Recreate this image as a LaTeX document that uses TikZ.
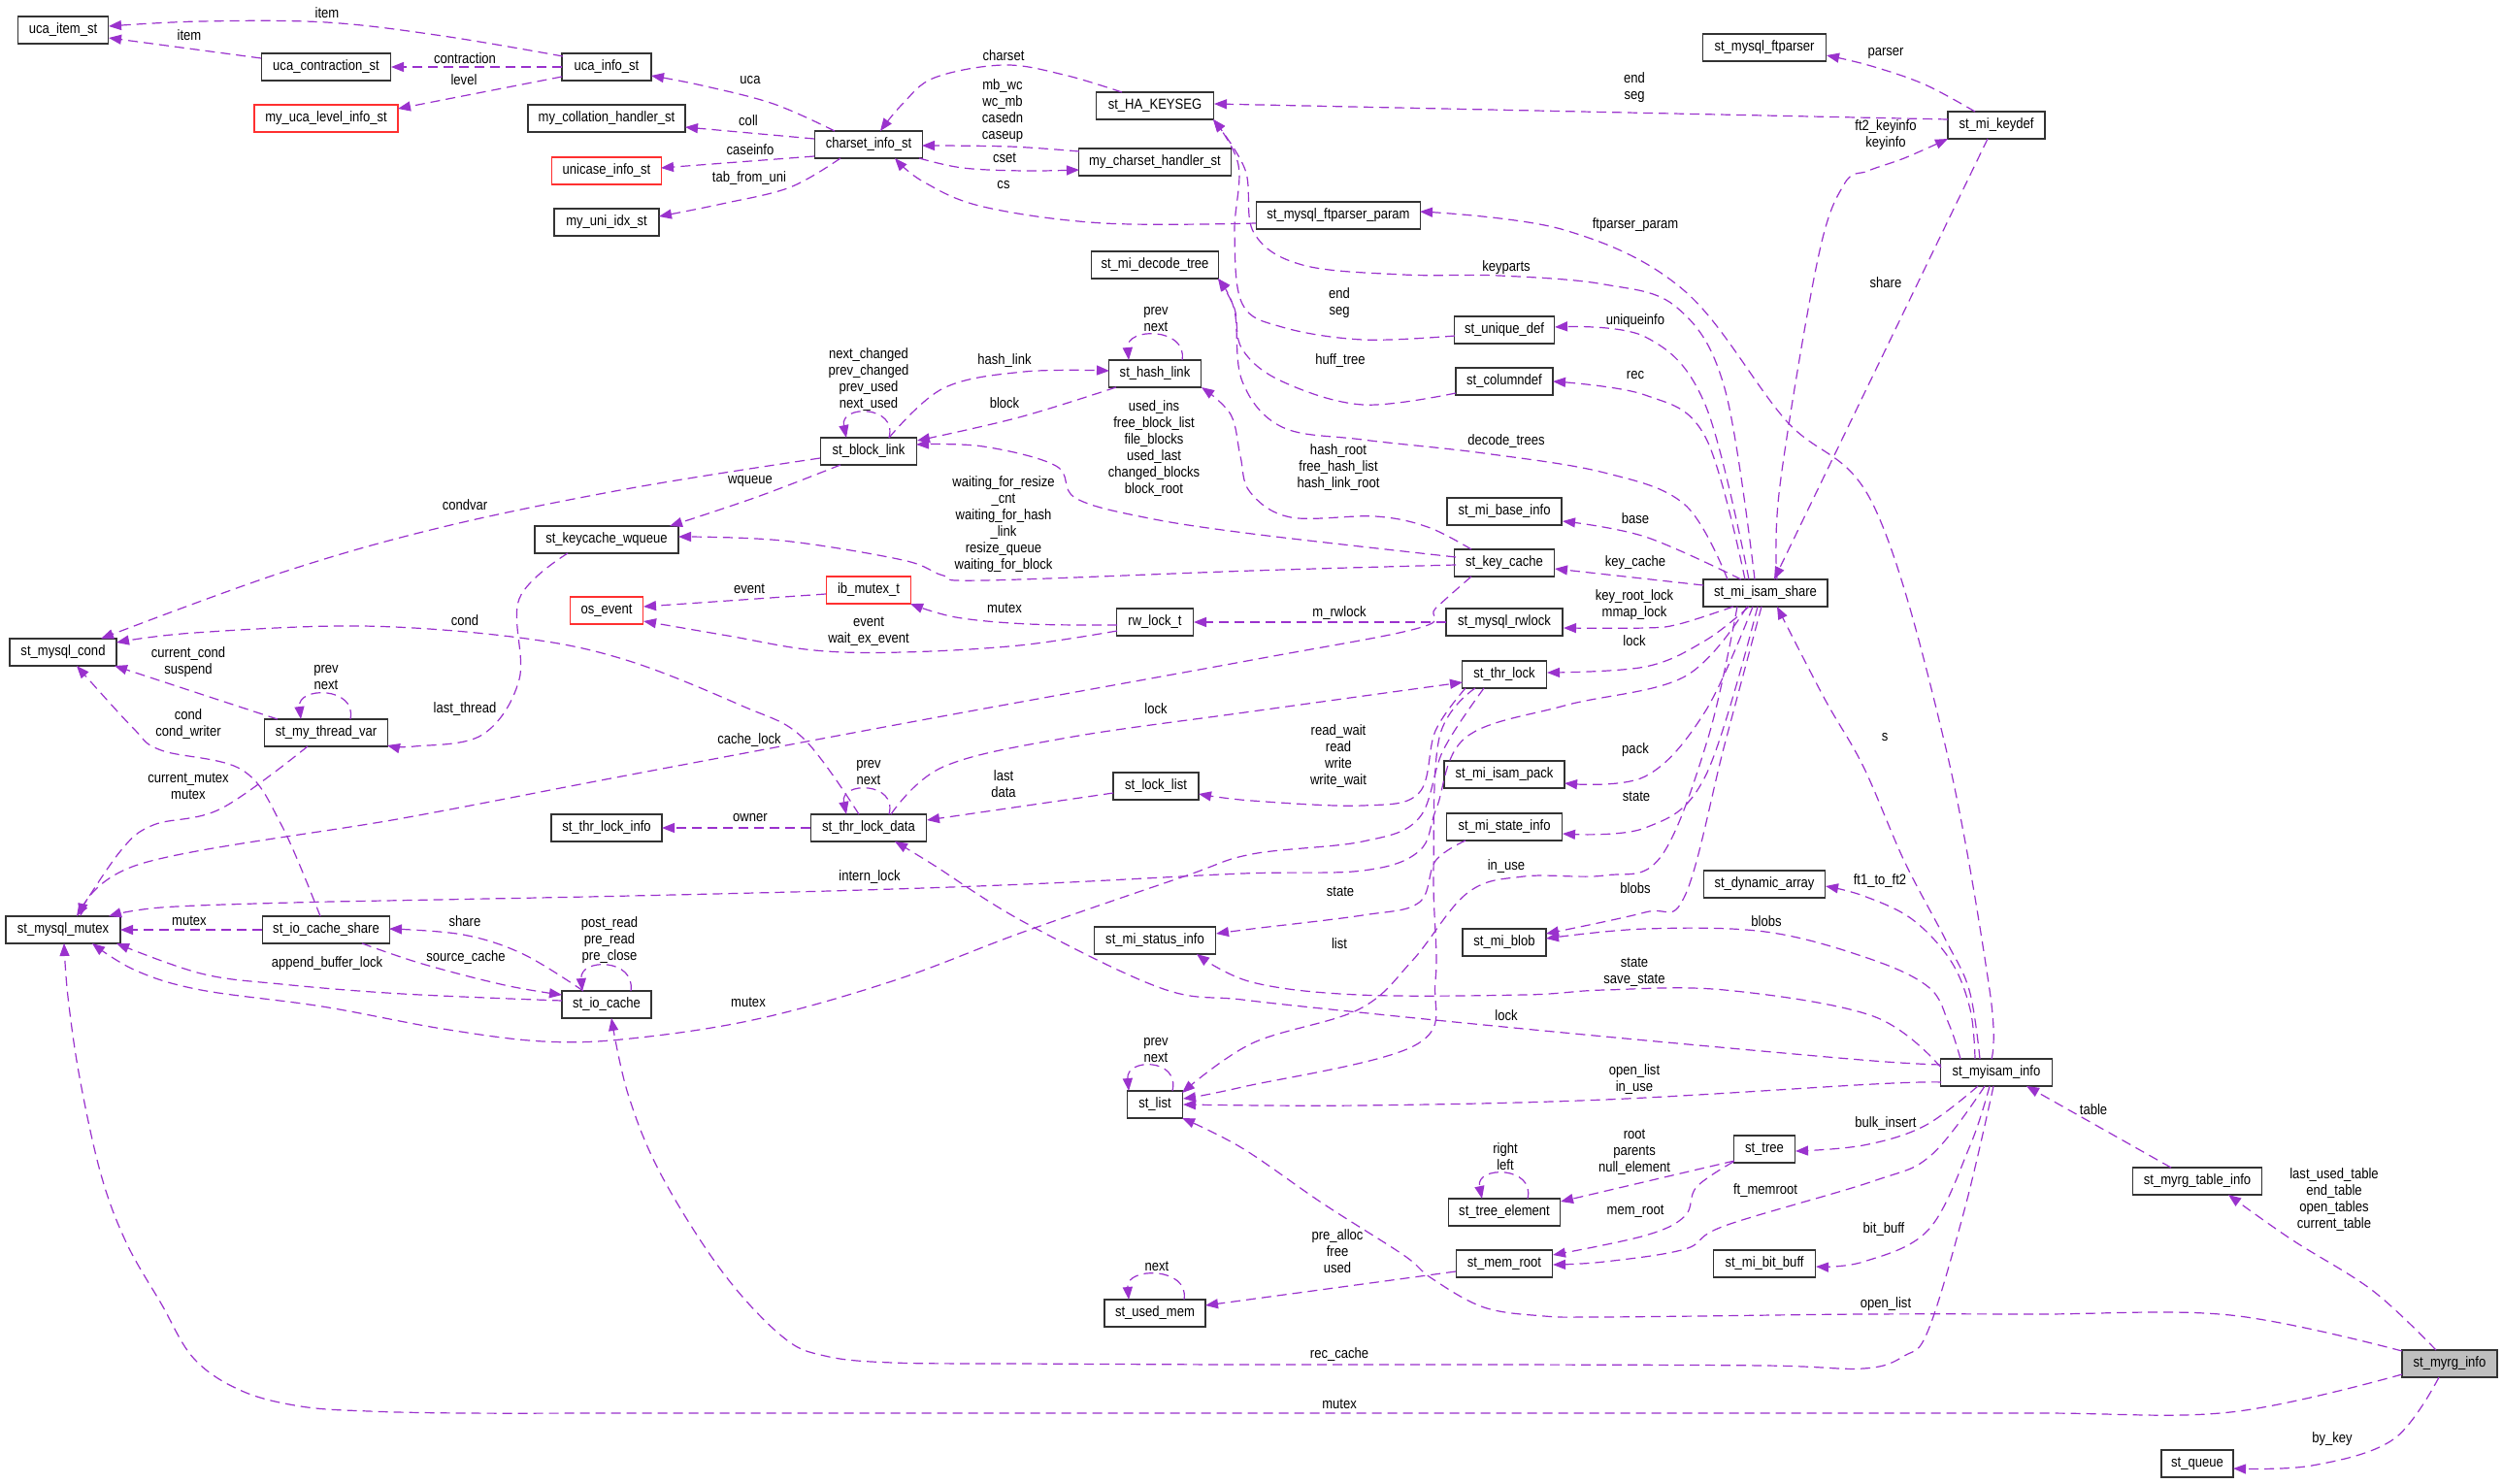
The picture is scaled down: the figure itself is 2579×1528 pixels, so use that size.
\documentclass[tikz,border=0pt]{standalone}
\usepackage{fontspec}
\setmainfont{Liberation Sans}[FakeStretch=0.87]
\usetikzlibrary{arrows.meta,calc}
\definecolor{edgec}{HTML}{9A32CD}
\definecolor{boxc}{HTML}{333333}
\definecolor{redc}{HTML}{FF3030}
\definecolor{fillc}{HTML}{BFBFBF}
\newcommand{\elab}[3]{\node[lbl] (#1) at (#2) {#3};}
\begin{document}
\begin{tikzpicture}[x=1pt,y=-1pt,
  box/.style={draw=boxc,fill=white,line width=1.2pt,minimum height=28pt,inner sep=0pt,font=\fontsize{15}{17}\selectfont},
  redbox/.style={box,draw=redc},
  lbl/.style={inner sep=0pt,align=center,font=\fontsize{15}{17}\selectfont},
  conn/.style={draw=edgec,line width=1.2pt,dash pattern=on 10pt off 6pt,-{Triangle[length=13pt,width=10pt]}},
  sm/.style={smooth,tension=0.6}]
\fill[white] (0,0) rectangle (2579,1528);
\useasboundingbox (0,0) rectangle (2579,1528);
% ---------- nodes
\node[box,minimum width=93pt] (ucaitem) at (65,31) {uca\_item\_st};
\node[box,minimum width=133pt] (ucacontr) at (336,69) {uca\_contraction\_st};
\node[redbox,minimum width=148pt] (ucalevel) at (336,122) {my\_uca\_level\_info\_st};
\node[box,minimum width=92pt] (ucainfo) at (625,69) {uca\_info\_st};
\node[box,minimum width=162pt] (mycoll) at (625,122) {my\_collation\_handler\_st};
\node[redbox,minimum width=113pt] (unicase) at (625,176) {unicase\_info\_st};
\node[box,minimum width=108pt] (myuni) at (625,229) {my\_uni\_idx\_st};
\node[box,minimum width=111pt] (charset) at (895,149) {charset\_info\_st};
\node[box,minimum width=121pt] (hakeyseg) at (1190,109) {st\_HA\_KEYSEG};
\node[box,minimum width=157pt] (mychar) at (1190,167) {my\_charset\_handler\_st};
\node[box,minimum width=131pt] (decodetree) at (1190,273) {st\_mi\_decode\_tree};
\node[box,minimum width=95pt] (hashlink) at (1190,385) {st\_hash\_link};
\node[box,minimum width=99pt] (blocklink) at (895,465) {st\_block\_link};
\node[box,minimum width=127pt] (ftparser) at (1818,49) {st\_mysql\_ftparser};
\node[box,minimum width=169pt] (ftparam) at (1379,222) {st\_mysql\_ftparser\_param};
\node[box,minimum width=103pt] (uniquedef) at (1550,340) {st\_unique\_def};
\node[box,minimum width=100pt] (columndef) at (1550,393) {st\_columndef};
\node[box,minimum width=100pt] (keydef) at (2057,129) {st\_mi\_keydef};
\node[box,minimum width=110pt] (cond) at (65,672) {st\_mysql\_cond};
\node[box,minimum width=148pt] (wqueue) at (625,556) {st\_keycache\_wqueue};
\node[redbox,minimum width=75pt] (osevent) at (625,629) {os\_event};
\node[box,minimum width=127pt] (threadvar) at (336,755) {st\_my\_thread\_var};
\node[box,minimum width=114pt] (thrlockinfo) at (625,853) {st\_thr\_lock\_info};
\node[box,minimum width=118pt] (mutex) at (65,958) {st\_mysql\_mutex};
\node[box,minimum width=131pt] (iocshare) at (336,958) {st\_io\_cache\_share};
\node[redbox,minimum width=87pt] (ibmutex) at (895,608) {ib\_mutex\_t};
\node[box,minimum width=79pt] (rwlockt) at (1190,641) {rw\_lock\_t};
\node[box,minimum width=119pt] (thrlockdata) at (895,853) {st\_thr\_lock\_data};
\node[box,minimum width=88pt] (locklist) at (1191,810) {st\_lock\_list};
\node[box,minimum width=125pt] (mistatus) at (1190,969) {st\_mi\_status\_info};
\node[box,minimum width=118pt] (mibase) at (1550,527) {st\_mi\_base\_info};
\node[box,minimum width=103pt] (keycache) at (1550,580) {st\_key\_cache};
\node[box,minimum width=128pt] (isamshare) at (1819,611) {st\_mi\_isam\_share};
\node[box,minimum width=120pt] (mysqlrwlock) at (1550,641) {st\_mysql\_rwlock};
\node[box,minimum width=87pt] (thrlock) at (1550,695) {st\_thr\_lock};
\node[box,minimum width=124pt] (isampack) at (1550,798) {st\_mi\_isam\_pack};
\node[box,minimum width=119pt] (mistate) at (1550,852) {st\_mi\_state\_info};
\node[box,minimum width=125pt] (dynarray) at (1818,911) {st\_dynamic\_array};
\node[box,minimum width=86pt] (miblob) at (1550,971) {st\_mi\_blob};
\node[box,minimum width=92pt] (iocache) at (625,1035) {st\_io\_cache};
\node[box,minimum width=57pt] (stlist) at (1190,1138) {st\_list};
\node[box,minimum width=104pt] (usedmem) at (1190,1353) {st\_used\_mem};
\node[box,minimum width=63pt] (sttree) at (1818,1184) {st\_tree};
\node[box,minimum width=115pt] (treeel) at (1550,1249) {st\_tree\_element};
\node[box,minimum width=99pt] (memroot) at (1550,1302) {st\_mem\_root};
\node[box,minimum width=105pt] (bitbuff) at (1818,1302) {st\_mi\_bit\_buff};
\node[box,minimum width=115pt] (myisaminfo) at (2057,1105) {st\_myisam\_info};
\node[box,minimum width=133pt] (myrgtable) at (2264,1217) {st\_myrg\_table\_info};
\node[box,minimum width=98pt,fill=fillc] (myrginfo) at (2524,1405) {st\_myrg\_info};
\node[box,minimum width=74pt] (queue) at (2264,1508) {st\_queue};
% ---------- connectors
\draw[conn] plot[sm] coordinates {($(ucainfo)+(-45,-11)$) (456,37) (336,23) (207,22) ($(ucaitem)+(47,-4)$)};
\draw[conn] ($(ucacontr)+(-67,-9)$) -- ($(ucaitem)+(47,8)$);
\draw[conn] ($(ucainfo)+(-46,0)$) -- ($(ucacontr)+(67,0)$);
\draw[conn] ($(ucainfo)+(-46,10)$) -- ($(ucalevel)+(74,-10)$);
\draw[conn] plot[sm] coordinates {($(charset)+(-35,-14)$) (797,107) (723,88) ($(ucainfo)+(46,9)$)};
\draw[conn] ($(charset)+(-56,-6)$) -- ($(mycoll)+(81,9)$);
\draw[conn] ($(charset)+(-56,12)$) -- ($(unicase)+(56,-3)$);
\draw[conn] plot[sm] coordinates {($(charset)+(-29,14)$) (814,193) (744,210) ($(myuni)+(54,-6)$)};
\draw[conn] plot[sm] coordinates {($(hakeyseg)+(-34,-14)$) (1096,77) (1034,67) (963,80) (930,107) ($(charset)+(12,-14)$)};
\draw[conn] plot[sm] coordinates {($(mychar)+(-78,-11)$) (1040,151) ($(charset)+(55,1)$)};
\draw[conn] plot[sm] coordinates {($(charset)+(52,14)$) (992,173) (1055,176) ($(mychar)+(-78,8)$)};
\draw[conn] plot[sm] coordinates {($(ftparam)+(-85,8)$) (1137,230) (1013,213) (951,187) ($(charset)+(27,14)$)};
\draw[conn] plot[sm] coordinates {($(isamshare)+(-11,-14)$) (1777,400) (1728,317) (1653,293) (1545,284) (1446,283) (1342,273) (1292,240) (1283,175) ($(hakeyseg)+(60,14)$)};
\draw[conn] ($(keydef)+(-50,-6)$) -- ($(hakeyseg)+(61,-2)$);
\draw[conn] plot[sm] coordinates {($(keydef)+(-22,-14)$) (1983,87) (1928,68) ($(ftparser)+(64,8)$)};
\draw[conn] plot[sm] coordinates {($(isamshare)+(12,-14)$) (1834,500) (1873,267) (1900,190) (1925,176) (1962,163) ($(keydef)+(-50,14)$)};
\draw[conn] ($(keydef)+(-9,14)$) -- ($(isamshare)+(9,-14)$);
\draw[conn] plot[sm] coordinates {($(myisaminfo)+(-5,-14)$) (2050,1020) (2004,767) (1930,520) (1840,433) (1736,300) (1612,237) ($(ftparam)+(84,-4)$)};
\draw[conn] plot[sm] coordinates {($(myisaminfo)+(-17,-14)$) (2029,1020) (2004,967) (1962,887) (1920,790) (1880,720) ($(isamshare)+(12,14)$)};
\draw[conn] plot[sm] coordinates {($(isamshare)+(-39,-14)$) (1736,520) (1653,487) (1529,467) (1404,453) (1321,440) (1280,393) (1272,320) ($(decodetree)+(65,14)$)};
\draw[conn] plot[sm] coordinates {($(uniquedef)+(-51,6)$) (1404,350) (1321,337) (1280,313) (1272,240) (1276,170) ($(hakeyseg)+(60,14)$)};
\draw[conn] plot[sm] coordinates {($(columndef)+(-50,12)$) (1404,417) (1321,393) (1280,360) (1272,318) ($(decodetree)+(65,14)$)};
\draw[conn] plot[sm] coordinates {($(isamshare)+(-17,-14)$) (1757,417) (1695,347) ($(uniquedef)+(52,-3)$)};
\draw[conn] plot[sm] coordinates {($(isamshare)+(-21,-14)$) (1757,450) (1695,407) ($(columndef)+(50,0)$)};
\draw[conn] plot[sm] coordinates {($(isamshare)+(-25,-14)$) (1695,553) ($(mibase)+(60,10)$)};
\draw[conn] ($(isamshare)+(-64,-8)$) -- ($(keycache)+(52,6)$);
\draw[conn] plot[sm] coordinates {($(isamshare)+(-33,14)$) (1730,643) (1695,647) ($(mysqlrwlock)+(61,6)$)};
\draw[conn] plot[sm] coordinates {($(isamshare)+(-17,14)$) (1757,660) (1695,687) ($(thrlock)+(44,-2)$)};
\draw[conn] plot[sm] coordinates {($(isamshare)+(-13,14)$) (1757,733) (1695,800) ($(isampack)+(62,9)$)};
\draw[conn] plot[sm] coordinates {($(isamshare)+(-8,14)$) (1757,800) (1695,853) ($(mistate)+(60,7)$)};
\draw[conn] plot[sm] coordinates {($(isamshare)+(-4,14)$) (1777,767) (1736,923) (1695,940) ($(miblob)+(43,-9)$)};
\draw[conn] plot[sm] coordinates {($(myisaminfo)+(-37,-14)$) (2008,1055) (1987,1017) (1924,987) (1819,960) (1695,957) ($(miblob)+(43,-4)$)};
\draw[conn] plot[sm] coordinates {($(isamshare)+(-29,14)$) (1760,760) (1711,883) (1653,902) (1570,903) (1512,920) (1455,990) (1400,1040) (1290,1075) ($(stlist)+(28,-12)$)};
\draw[conn] plot[sm] coordinates {($(isamshare)+(-19,14)$) (1736,697) (1612,727) (1510,760) (1480,833) (1462,877) (1404,897) (1280,900) (1080,910) (889,917) (650,923) (450,927) (300,930) (166,935) ($(mutex)+(47,-14)$)};
\draw[conn] plot[sm] coordinates {($(keycache)+(-50,-6)$) (1290,550) (1179,533) (1108,513) (1088,480) (1013,460) ($(blocklink)+(49,-7)$)};
\draw[conn] plot[sm] coordinates {($(keycache)+(-34,-14)$) (1471,543) (1417,532) (1330,533) (1288,507) (1278,470) (1268,427) ($(hashlink)+(48,14)$)};
\draw[conn] plot[sm] coordinates {($(keycache)+(-50,2)$) (1290,588) (1013,598) (972,593) (930,577) (806,557) ($(wqueue)+(74,-3)$)};
\draw[conn] plot[sm] coordinates {($(keycache)+(-34,14)$) (1479,627) (1462,647) (1290,680) (960,740) (640,800) (415,843) (145,890) ($(mutex)+(18,-14)$)};
\draw[conn] plot[sm] coordinates {($(blocklink)+(-50,7)$) (650,503) (456,543) (290,590) ($(cond)+(39,-14)$)};
\draw[conn] plot[sm] coordinates {($(blocklink)+(-29,14)$) (780,512) ($(wqueue)+(65,-14)$)};
\draw[conn] plot[sm] coordinates {($(blocklink)+(21,-14)$) (972,400) (1055,383) ($(hashlink)+(-47,-3)$)};
\draw[conn] plot[sm] coordinates {($(hashlink)+(-40,14)$) (1050,430) ($(blocklink)+(50,-11)$)};
\draw[conn] ($(blocklink)+(21,-14)$) .. controls ($(blocklink)+(30,-48)$) and ($(blocklink)+(-30,-48)$) .. ($(blocklink)+(-23,-14)$);
\draw[conn] ($(hashlink)+(28,-14)$) .. controls ($(hashlink)+(34,-48)$) and ($(hashlink)+(-30,-48)$) .. ($(hashlink)+(-27,-14)$);
\draw[conn] ($(threadvar)+(-50,-14)$) -- ($(cond)+(53,14)$);
\draw[conn] ($(threadvar)+(25,-14)$) .. controls ($(threadvar)+(32,-48)$) and ($(threadvar)+(-30,-48)$) .. ($(threadvar)+(-26,-14)$);
\draw[conn] plot[sm] coordinates {($(wqueue)+(-40,14)$) (535,617) (535,700) (497,757) (427,769) ($(threadvar)+(63,13)$)};
\draw[conn] plot[sm] coordinates {($(threadvar)+(-19,14)$) (228,833) (158,850) (124,877) ($(mutex)+(14,-14)$)};
\draw[conn] plot[sm] coordinates {($(iocshare)+(-6,-14)$) (290,850) (249,793) (166,773) (137,750) ($(cond)+(14,14)$)};
\draw[conn] plot[sm] coordinates {($(thrlockdata)+(-10,-14)$) (827,760) (764,727) (645,680) (535,657) (373,645) (200,652) ($(cond)+(55,-10)$)};
\draw[conn] ($(iocshare)+(-66,0)$) -- ($(mutex)+(59,0)$);
\draw[conn] plot[sm] coordinates {($(iocache)+(-46,-4)$) (415,1024) (290,1014) (207,1003) ($(mutex)+(55,14)$)};
\draw[conn] plot[sm] coordinates {($(iocache)+(-24,-14)$) (539,983) (477,963) ($(iocshare)+(65,-1)$)};
\draw[conn] plot[sm] coordinates {($(iocshare)+(37,14)$) (435,993) (520,1015) ($(iocache)+(-46,-10)$)};
\draw[conn] ($(iocache)+(25,-14)$) .. controls ($(iocache)+(30,-48)$) and ($(iocache)+(-28,-48)$) .. ($(iocache)+(-25,-14)$);
\draw[conn] ($(thrlockdata)+(-60,0)$) -- ($(thrlockinfo)+(57,0)$);
\draw[conn] ($(thrlockdata)+(21,-14)$) .. controls ($(thrlockdata)+(30,-48)$) and ($(thrlockdata)+(-30,-48)$) .. ($(thrlockdata)+(-23,-14)$);
\draw[conn] ($(locklist)+(-44,7)$) -- ($(thrlockdata)+(60,-8)$);
\draw[conn] plot[sm] coordinates {($(thrlockdata)+(23,-14)$) (972,790) (1100,760) (1290,733) ($(thrlock)+(-43,8)$)};
\draw[conn] plot[sm] coordinates {($(thrlock)+(-40,14)$) (1479,753) (1462,817) (1404,830) (1290,825) ($(locklist)+(44,8)$)};
\draw[conn] plot[sm] coordinates {($(thrlock)+(-21,14)$) (1487,773) (1462,843) (1404,867) (1290,880) (1220,903) (1055,960) (922,1010) (780,1050) (650,1070) (560,1073) (456,1060) (332,1037) (207,1020) (140,1000) ($(mutex)+(30,14)$)};
\draw[conn] plot[sm] coordinates {($(thrlock)+(-30,14)$) (1483,760) (1477,900) (1479,1010) (1458,1077) (1280,1120) ($(stlist)+(29,-6)$)};
\draw[conn] plot[sm] coordinates {($(mistate)+(-40,14)$) (1479,887) (1462,930) (1404,943) (1290,957) ($(mistatus)+(63,-7)$)};
\draw[conn] plot[sm] coordinates {($(myisaminfo)+(-57,-5)$) (1930,1047) (1777,1020) (1653,1020) (1570,1025) (1400,1025) (1290,1012) ($(mistatus)+(43,14)$)};
\draw[conn] plot[sm] coordinates {($(myisaminfo)+(-57,-8)$) (1930,1093) (1750,1077) (1570,1060) (1400,1043) (1280,1030) (1196,1018) (1055,950) (960,890) ($(thrlockdata)+(27,14)$)};
\draw[conn] plot[sm] coordinates {($(myisaminfo)+(-57,10)$) (1930,1117) (1653,1133) (1400,1139) ($(stlist)+(29,0)$)};
\draw[conn] plot[sm] coordinates {($(myrginfo)+(-49,-13)$) (2298,1355) (2100,1354) (1920,1354) (1750,1356) (1640,1357) (1591,1356) (1529,1347) (1475,1317) (1446,1293) (1363,1240) (1280,1183) ($(stlist)+(28,14)$)};
\draw[conn] plot[sm] coordinates {($(myisaminfo)+(-3,14)$) (2025,1243) (1987,1370) (1962,1397) (1920,1410) (1819,1407) (1550,1406) (1280,1406) (1050,1405) (920,1404) (850,1397) (806,1377) (744,1310) (681,1210) (647,1127) ($(iocache)+(5,14)$)};
\draw[conn] plot[sm] coordinates {($(myrginfo)+(-49,11)$) (2298,1455) (2100,1456) (1800,1456) (1500,1456) (1200,1456) (900,1456) (650,1456) (480,1456) (380,1454) (310,1449) (249,1433) (200,1400) (166,1343) (130,1280) (104,1210) (82,1110) (70,1027) ($(mutex)+(1,14)$)};
\draw[conn] plot[sm] coordinates {($(myrginfo)+(-14,-14)$) (2445,1330) (2361,1277) ($(myrgtable)+(32,14)$)};
\draw[conn] ($(myrgtable)+(-27,-14)$) -- ($(myisaminfo)+(31,14)$);
\draw[conn] plot[sm] coordinates {($(myrginfo)+(-11,14)$) (2466,1483) (2382,1510) ($(queue)+(37,5)$)};
\draw[conn] plot[sm] coordinates {($(myisaminfo)+(-22,-14)$) (2030,1040) (2010,990) (1970,947) (1920,923) ($(dynarray)+(63,2)$)};
\draw[conn] plot[sm] coordinates {($(myisaminfo)+(-19,14)$) (1983,1160) (1920,1180) ($(sttree)+(32,2)$)};
\draw[conn] plot[sm] coordinates {($(myisaminfo)+(-12,14)$) (1990,1190) (1930,1217) (1777,1263) (1736,1287) (1653,1300) ($(memroot)+(50,1)$)};
\draw[conn] plot[sm] coordinates {($(myisaminfo)+(-7,14)$) (2030,1180) (1987,1267) (1920,1300) ($(bitbuff)+(53,3)$)};
\draw[conn] ($(sttree)+(-31,12)$) -- ($(treeel)+(58,-11)$);
\draw[conn] plot[sm] coordinates {($(sttree)+(-32,13)$) (1748,1223) (1736,1253) (1695,1273) ($(memroot)+(50,-9)$)};
\draw[conn] ($(treeel)+(24,-14)$) .. controls ($(treeel)+(32,-48)$) and ($(treeel)+(-30,-48)$) .. ($(treeel)+(-23,-14)$);
\draw[conn] ($(memroot)+(-50,8)$) -- ($(usedmem)+(52,-8)$);
\draw[conn] ($(usedmem)+(30,-14)$) .. controls ($(usedmem)+(36,-48)$) and ($(usedmem)+(-30,-48)$) .. ($(usedmem)+(-27,-14)$);
\draw[conn] ($(stlist)+(18,-14)$) .. controls ($(stlist)+(26,-48)$) and ($(stlist)+(-30,-48)$) .. ($(stlist)+(-27,-14)$);
\draw[conn] plot[sm] coordinates {($(rwlockt)+(-39,3)$) (1060,643) (985,636) ($(ibmutex)+(43,14)$)};
\draw[conn] plot[sm] coordinates {($(rwlockt)+(-39,9)$) (1050,665) (930,672) (839,670) (750,655) ($(osevent)+(38,11)$)};
\draw[conn] ($(ibmutex)+(-44,4)$) -- ($(osevent)+(38,-4)$);
\draw[conn] ($(mysqlrwlock)+(-60,0)$) -- ($(rwlockt)+(40,0)$);
% ---------- labels
\elab{l1}{337,13}{item}
\elab{l2}{195,36}{item}
\elab{l3}{479,60}{contraction}
\elab{l4}{478,82}{level}
\elab{l5}{773,83}{uca}
\elab{l6}{771,124}{coll}
\elab{l7}{773,154}{caseinfo}
\elab{l8}{772,184}{tab\_from\_uni}
\elab{l9}{1034,57}{charset}
\elab{l10}{1033,114}{mb\_wc\\wc\_mb\\casedn\\caseup}
\elab{l11}{1035,163}{cset}
\elab{l12}{1034,191}{cs}
\elab{l13}{1552,276}{keyparts}
\elab{l14}{1684,90}{end\\seg}
\elab{l15}{1943,55}{parser}
\elab{l16}{1943,139}{ft2\_keyinfo\\keyinfo}
\elab{l17}{1943,291}{share}
\elab{l18}{1685,232}{ftparser\_param}
\elab{l19}{1942,760}{s}
\elab{l20}{1552,455}{decode\_trees}
\elab{l21}{1380,312}{end\\seg}
\elab{l22}{1381,372}{huff\_tree}
\elab{l23}{1685,331}{uniqueinfo}
\elab{l24}{1685,387}{rec}
\elab{l25}{1685,534}{base}
\elab{l26}{1685,580}{key\_cache}
\elab{l27}{1684,623}{key\_root\_lock\\mmap\_lock}
\elab{l28}{1684,660}{lock}
\elab{l29}{1685,773}{pack}
\elab{l30}{1686,821}{state}
\elab{l31}{1685,915}{blobs}
\elab{l32}{1820,949}{blobs}
\elab{l33}{1552,893}{in\_use}
\elab{l34}{896,904}{intern\_lock}
\elab{l35}{1189,462}{used\_ins\\free\_block\_list\\file\_blocks\\used\_last\\changed\_blocks\\block\_root}
\elab{l36}{1379,482}{hash\_root\\free\_hash\_list\\hash\_link\_root}
\elab{l37}{1034,540}{waiting\_for\_resize\\\_cnt\\waiting\_for\_hash\\\_link\\resize\_queue\\waiting\_for\_block}
\elab{l38}{772,763}{cache\_lock}
\elab{l39}{479,520}{condvar}
\elab{l40}{773,496}{wqueue}
\elab{l41}{1035,372}{hash\_link}
\elab{l42}{1035,415}{block}
\elab{l43}{895,391}{next\_changed\\prev\_changed\\prev\_used\\next\_used}
\elab{l44}{1191,329}{prev\\next}
\elab{l45}{194,682}{current\_cond\\suspend}
\elab{l46}{336,698}{prev\\next}
\elab{l47}{479,731}{last\_thread}
\elab{l48}{194,810}{current\_mutex\\mutex}
\elab{l49}{194,746}{cond\\cond\_writer}
\elab{l50}{479,639}{cond}
\elab{l51}{195,949}{mutex}
\elab{l52}{337,993}{append\_buffer\_lock}
\elab{l53}{479,949}{share}
\elab{l54}{480,987}{source\_cache}
\elab{l55}{628,969}{post\_read\\pre\_read\\pre\_close}
\elab{l56}{773,843}{owner}
\elab{l57}{895,796}{prev\\next}
\elab{l58}{1034,808}{last\\data}
\elab{l59}{1191,730}{lock}
\elab{l60}{1379,779}{read\_wait\\read\\write\\write\_wait}
\elab{l61}{771,1033}{mutex}
\elab{l62}{1380,972}{list}
\elab{l63}{1381,919}{state}
\elab{l64}{1684,1002}{state\\save\_state}
\elab{l65}{1552,1046}{lock}
\elab{l66}{1684,1112}{open\_list\\in\_use}
\elab{l67}{1943,1344}{open\_list}
\elab{l68}{1380,1396}{rec\_cache}
\elab{l69}{1380,1447}{mutex}
\elab{l70}{2405,1236}{last\_used\_table\\end\_table\\open\_tables\\current\_table}
\elab{l71}{2157,1143}{table}
\elab{l72}{2403,1483}{by\_key}
\elab{l73}{1937,908}{ft1\_to\_ft2}
\elab{l74}{1943,1158}{bulk\_insert}
\elab{l75}{1819,1227}{ft\_memroot}
\elab{l76}{1941,1267}{bit\_buff}
\elab{l77}{1684,1187}{root\\parents\\null\_element}
\elab{l78}{1685,1248}{mem\_root}
\elab{l79}{1551,1192}{right\\left}
\elab{l80}{1378,1289}{pre\_alloc\\free\\used}
\elab{l81}{1192,1305}{next}
\elab{l82}{1191,1082}{prev\\next}
\elab{l83}{1035,627}{mutex}
\elab{l84}{895,651}{event\\wait\_ex\_event}
\elab{l85}{772,607}{event}
\elab{l86}{1380,632}{m\_rwlock}
\end{tikzpicture}
\end{document}
